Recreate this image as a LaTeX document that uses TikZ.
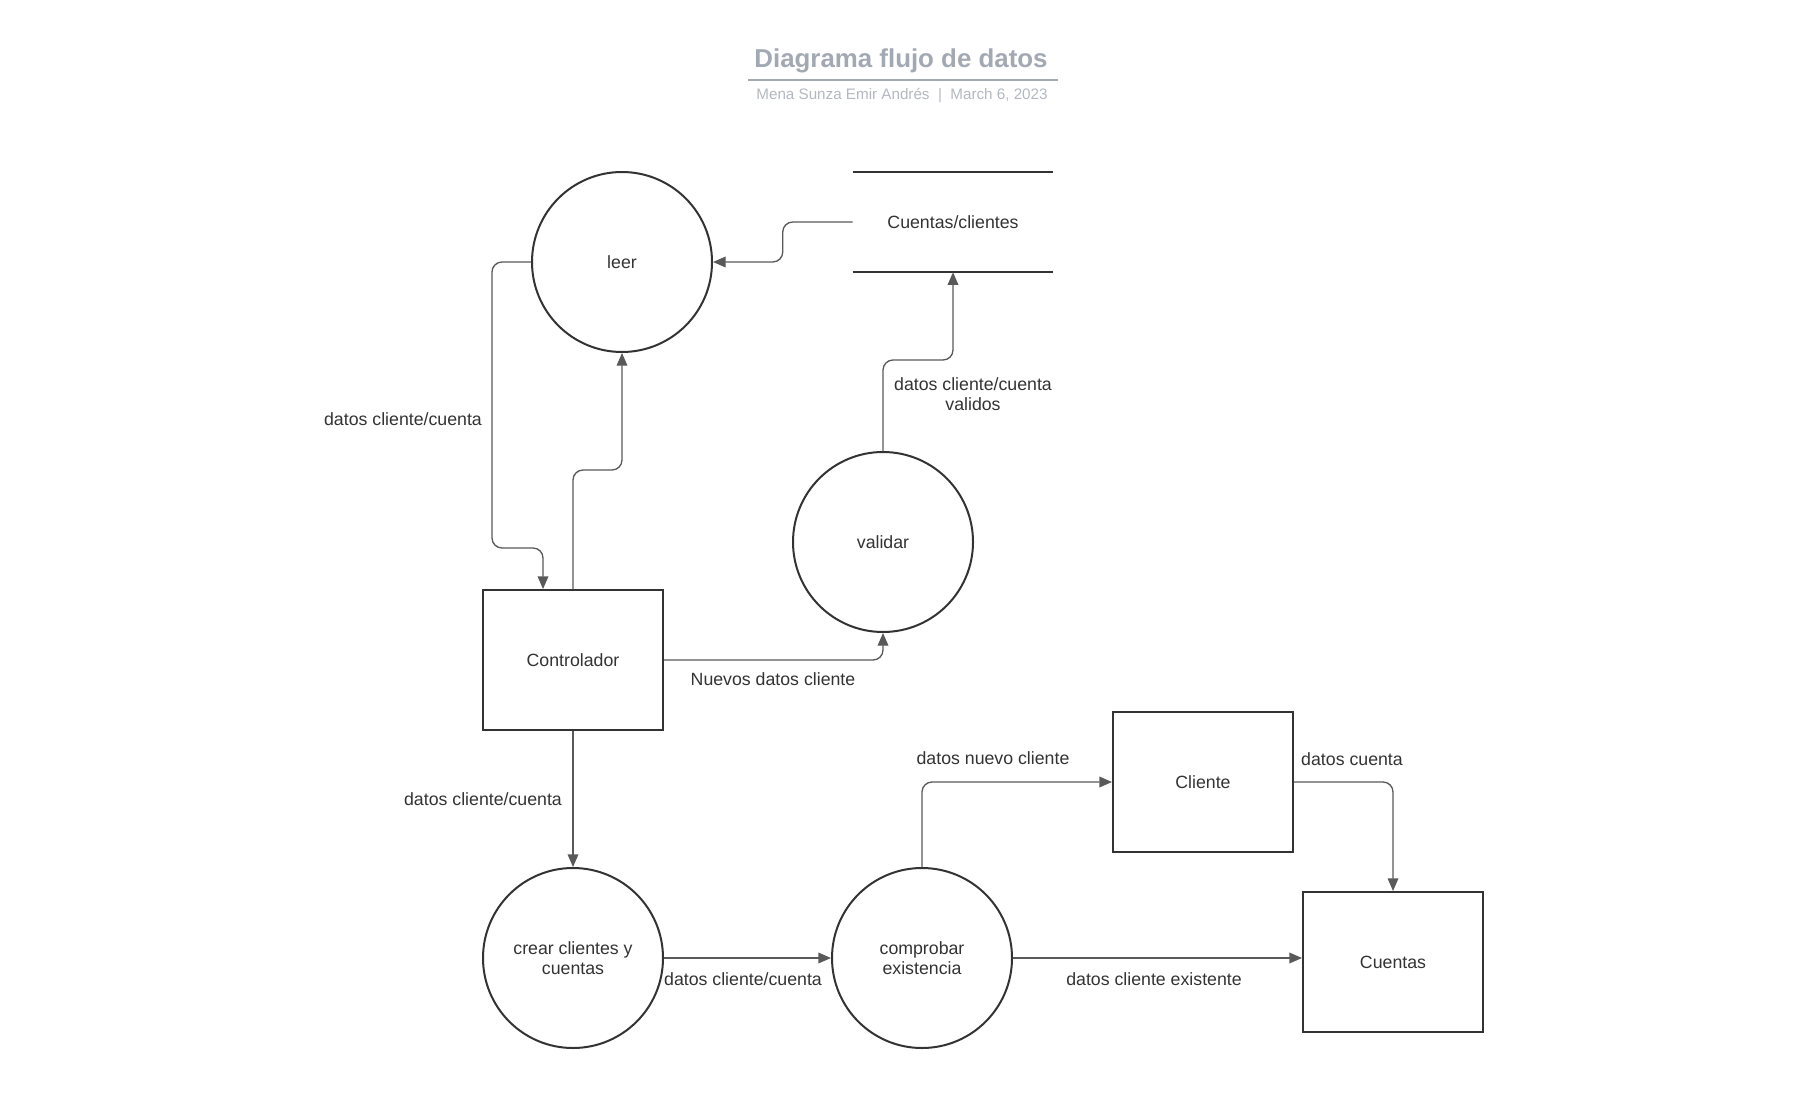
\documentclass[tikz,border=0pt]{standalone}
\usepackage{fontspec}
\setmainfont{Liberation Sans}
\usetikzlibrary{arrows.meta}
\colorlet{fg}{black!80}
\colorlet{wire}{black!65}
\definecolor{titlegray}{HTML}{A3A9B3}
\definecolor{subgray}{HTML}{B3B8C0}
\tikzset{
	proc/.style={circle,draw=fg,line width=1.5pt,minimum size=135pt,inner sep=0pt,align=center,text=fg,font=\fontsize{13.3}{15}\selectfont},
	entity/.style={rectangle,draw=fg,line width=1.5pt,minimum width=135pt,minimum height=105pt,inner sep=0pt,align=center,text=fg,font=\fontsize{13.3}{15}\selectfont},
	store/.style={rectangle,minimum width=150pt,minimum height=75pt,inner sep=0pt,text=fg,font=\fontsize{13.3}{15}\selectfont},
	flow/.style={draw=wire,line width=1pt,rounded corners=7.5pt,-{Triangle[length=9.5pt,width=8pt]},color=wire},
	lbl/.style={align=center,inner sep=0pt,text=fg,font=\fontsize{13.3}{15}\selectfont}
}

\begin{document}
\begin{tikzpicture}[x=0.75pt,y=-0.75pt]
	    \useasboundingbox (0,0) rectangle (1797,1116);
	    % title block
	    \node[font=\bfseries\fontsize{19.4}{22}\selectfont,text=titlegray] (title) at (901,61) {Diagrama flujo de datos};
	    \draw[titlegray,line width=1.5pt] (748,80) -- (1058,80);
	    \node[font=\fontsize{11.4}{13}\selectfont,text=subgray] (subtitle) at (902,96) {Mena Sunza Emir Andrés~~|~~March 6, 2023};
	    % processes, entities, store
	    \node[proc] (leer) at (622,262) {leer};
	    \node[proc] (validar) at (883,542) {validar};
	    \node[proc] (crear) at (573,958) {crear clientes y\\cuentas};
	    \node[proc] (comp) at (922,958) {comprobar\\existencia};
	    \node[entity] (ctrl) at (573,660) {Controlador};
	    \node[entity] (cliente) at (1203,782) {Cliente};
	    \node[entity] (cuentas) at (1393,962) {Cuentas};
	    \node[store] (store) at (953,222) {Cuentas/clientes};
	    \draw[fg,line width=1.5pt] (store.north west) -- (store.north east);
	    \draw[fg,line width=1.5pt] (store.south west) -- (store.south east);
	    % flows
	    \draw[flow] (store.west) -- ++(-70,0) |- (leer.east);
	    \draw[flow] (leer.west) -| (492,548) -| ([xshift=-22.5pt]ctrl.north);
	    \draw[flow] (ctrl.north) -- ++(0,-119) -| (leer.south);
	    \draw[flow] (validar.north) -- ++(0,-91) -| (store.south);
	    \draw[flow] (ctrl.east) -| (validar.south);
	    \draw[flow] (ctrl.south) -- (crear.north);
	    \draw[flow] (crear.east) -- (comp.west);
	    \draw[flow] (comp.north) |- (cliente.west);
	    \draw[flow] (cliente.east) -| (cuentas.north);
	    \draw[flow] (comp.east) -- (comp.east -| cuentas.west);
	    % flow labels
	    \node[lbl] (l1) at (403,419) {datos cliente/cuenta};
	    \node[lbl] (l2) at (973,394) {datos cliente/cuenta\\validos};
	    \node[lbl] (l3) at (773,679) {Nuevos datos cliente};
	    \node[lbl] (l4) at (483,799) {datos cliente/cuenta};
	    \node[lbl] (l5) at (743,979) {datos cliente/cuenta};
	    \node[lbl] (l6) at (993,758) {datos nuevo cliente};
	    \node[lbl] (l7) at (1352,759) {datos cuenta};
	    \node[lbl] (l8) at (1154,979) {datos cliente existente};
        \end{tikzpicture}
\end{document}
